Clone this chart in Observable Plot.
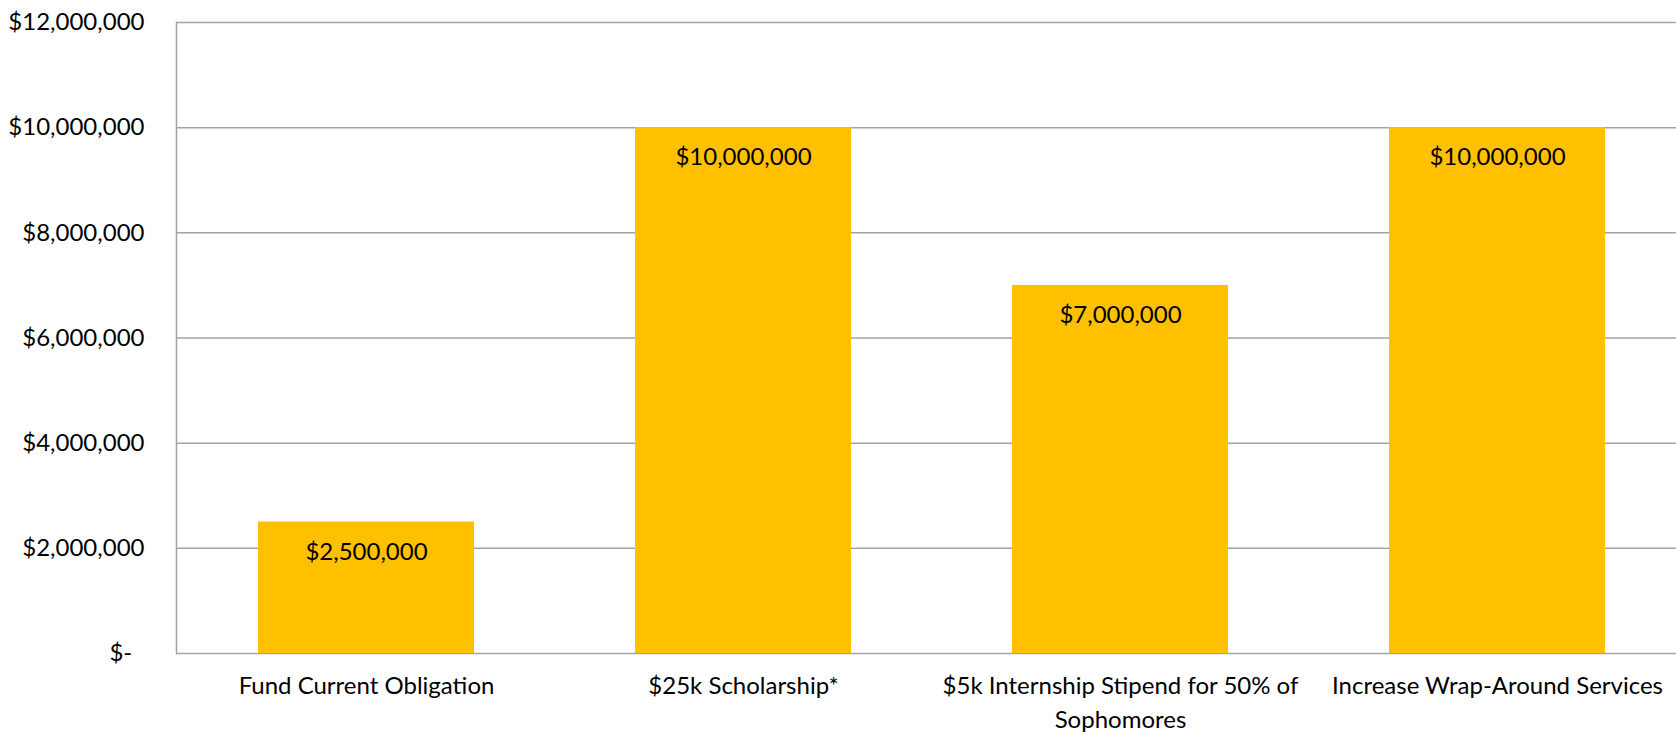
<!DOCTYPE html>
<html>
<head>
<meta charset="utf-8">
<script src="https://cdn.jsdelivr.net/npm/d3@7"></script>
<script src="https://cdn.jsdelivr.net/npm/@observablehq/plot@0.6"></script>
<style>
  html, body { margin: 0; padding: 0; background: #fff; }
  #chart svg { display: block; }
</style>
</head>
<body>
<div id="chart"></div>
<script>
const categories = [
  "Fund Current Obligation",
  "$25k Scholarship*",
  "$5k Internship Stipend for 50% of Sophomores",
  "Increase Wrap-Around Services"
];
const wrappedLabels = [
  "Fund Current Obligation",
  "$25k Scholarship*",
  "$5k Internship Stipend for 50% of\nSophomores",
  "Increase Wrap-Around Services"
];
const values = [2500000, 10000000, 7000000, 10000000];
const yTicks = [0, 2000000, 4000000, 6000000, 8000000, 10000000, 12000000];

const data = categories.map((c, i) => ({category: c, value: values[i]}));
const money = d3.format("$,");
const yFmt = d => d === 0 ? "$-\u00a0\u00a0" : money(d);
const xFmt = d => wrappedLabels[categories.indexOf(d)];

const gridColor = "#a3a3a3";
const barColor = "#FFC000";

const chart = Plot.plot({
  width: 1676,
  height: 735,
  marginTop: 22,
  marginBottom: 82,
  marginLeft: 176,
  marginRight: 0,
  style: {fontFamily: "Lato, 'Open Sans', sans-serif", fontSize: "24px", color: "#000", background: "#fff"},
  x: {domain: categories, range: [176, 1686], paddingInner: 0.428, paddingOuter: 0.214, label: null},
  y: {domain: [0, 12000000], label: null},
  marks: [
    Plot.ruleY(yTicks, {stroke: gridColor, strokeWidth: 1.5}),
    Plot.frame({anchor: "left", stroke: gridColor, strokeWidth: 1.5}),
    Plot.barY(data, {x: "category", y: "value", fill: barColor}),
    Plot.text(data, {x: "category", y: "value", text: d => money(d.value), dy: 30, fill: "#000", fontSize: 24}),
    Plot.axisY({ticks: yTicks, tickFormat: yFmt, tickSize: 0, tickPadding: 32, fontSize: 24, label: null}),
    Plot.axisX({tickFormat: xFmt, tickSize: 0, tickPadding: 16, fontSize: 24, lineHeight: 1.42, label: null})
  ]
});
document.getElementById("chart").appendChild(chart);
</script>
</body>
</html>
